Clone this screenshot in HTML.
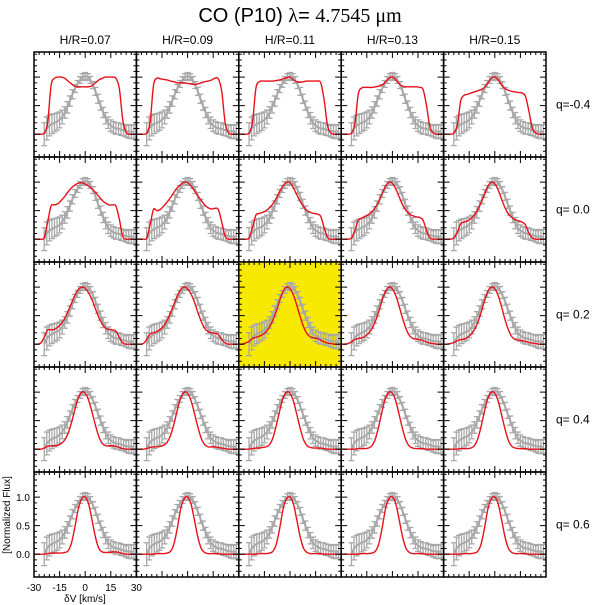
<!DOCTYPE html>
<html><head><meta charset="utf-8"><style>
html,body{margin:0;padding:0;background:#fff;}
svg{display:block;font-family:"Liberation Sans",sans-serif;}
</style></head><body>
<svg id="fig" width="600" height="605" viewBox="0 0 600 605" xmlns="http://www.w3.org/2000/svg">
<text x="300" y="22" font-size="20" text-anchor="middle">CO (P10) <tspan font-family="Liberation Serif">λ</tspan>= <tspan font-family="Liberation Serif">4.7545 μm</tspan></text>
<g id="panels"></g>
<text transform="translate(10,515) rotate(-90)" font-size="10" text-anchor="middle">[Normalized Flux]</text>
<text x="85" y="602" font-size="10" text-anchor="middle">δV [km/s]</text>
</svg>
<script>
const colLabels=["H/R=0.07","H/R=0.09","H/R=0.11","H/R=0.13","H/R=0.15"];
const rowLabels=["q=-0.4","q= 0.0","q= 0.2","q= 0.4","q= 0.6"];
const xTicks=[-30,-15,0,15,30];
const yTicks=[0.0,0.5,1.0];
const yTickLabels=["0.0","0.5","1.0"];
const modelV=[-30,-28,-26,-24,-22,-20,-18,-16,-14,-12,-10,-8,-6,-4,-2,0,2,4,6,8,10,12,14,16,18,20,22,24,26,28,30];
const dataV=[-24,-22.5,-21,-19.5,-18,-16.5,-15,-13.5,-12,-10.5,-9,-7.5,-6,-4.5,-3,-1.5,0,1.5,3,4.5,6,7.5,9,10.5,12,13.5,15,16.5,18,19.5,21,22.5,24,25.5,27,28.5];
const dataFlux=[0.0,0.1,0.15,0.18,0.2,0.22,0.25,0.3,0.38,0.47,0.58,0.7,0.8,0.88,0.95,1.0,1.02,1.0,0.95,0.86,0.75,0.62,0.5,0.38,0.28,0.2,0.15,0.12,0.1,0.1,0.08,0.07,0.05,0.05,0.04,0.05];
const dataErr=[0.2,0.2,0.18,0.17,0.16,0.15,0.14,0.12,0.1,0.1,0.09,0.08,0.07,0.06,0.06,0.06,0.06,0.06,0.06,0.06,0.07,0.08,0.08,0.09,0.1,0.1,0.1,0.1,0.1,0.1,0.1,0.1,0.1,0.12,0.12,0.12];
const modelQm04=[
[0,0,0,0.02,0.2,0.85,0.98,1.0,1.0,0.98,0.93,0.88,0.84,0.83,0.83,0.83,0.83,0.85,0.9,0.95,0.98,1.0,1.0,1.0,0.98,0.8,0.25,0.03,0,0,0],
[0,0,0,0.02,0.2,0.85,0.98,0.97,0.96,0.95,0.93,0.92,0.9,0.9,0.9,0.89,0.88,0.87,0.88,0.9,0.92,0.93,0.95,0.98,0.97,0.75,0.2,0.02,0,0,0],
[0,0,0,0.02,0.2,0.8,0.92,0.93,0.93,0.93,0.93,0.94,0.95,0.97,0.99,1.0,0.95,0.92,0.91,0.92,0.93,0.93,0.93,0.93,0.9,0.6,0.15,0.02,0,0,0],
[0,0,0,0.02,0.18,0.7,0.81,0.82,0.82,0.82,0.83,0.84,0.86,0.92,0.98,1.0,0.95,0.88,0.84,0.83,0.83,0.83,0.83,0.82,0.78,0.5,0.12,0.02,0,0,0],
[0,0,0,0.02,0.15,0.58,0.68,0.7,0.72,0.74,0.76,0.78,0.82,0.9,0.98,1.0,0.95,0.86,0.8,0.77,0.75,0.74,0.73,0.72,0.66,0.4,0.1,0.02,0,0,0]];
const modelQ00=[
[0,0,0,0.03,0.3,0.58,0.6,0.62,0.68,0.75,0.83,0.9,0.95,0.98,0.99,0.97,0.93,0.88,0.82,0.75,0.68,0.63,0.6,0.6,0.58,0.35,0.05,0,0,0,0],
[0,0,0,0.02,0.25,0.52,0.5,0.52,0.58,0.65,0.73,0.82,0.9,0.96,1.0,0.99,0.93,0.85,0.76,0.68,0.6,0.55,0.53,0.54,0.52,0.3,0.05,0,0,0,0],
[0,0,0,0.02,0.2,0.42,0.45,0.47,0.5,0.55,0.62,0.72,0.84,0.94,1.0,0.99,0.9,0.78,0.66,0.57,0.5,0.47,0.45,0.44,0.4,0.2,0.03,0,0,0,0],
[0,0,0,0.02,0.15,0.33,0.37,0.4,0.43,0.48,0.56,0.66,0.8,0.93,1.0,0.98,0.88,0.74,0.6,0.5,0.44,0.41,0.39,0.38,0.33,0.15,0.02,0,0,0,0],
[0,0,0,0.02,0.12,0.27,0.3,0.32,0.36,0.42,0.52,0.64,0.79,0.93,1.0,0.97,0.86,0.7,0.55,0.44,0.38,0.34,0.32,0.3,0.25,0.1,0.02,0,0,0,0]];
const modelQ02=[
[0,0,0.02,0.12,0.25,0.25,0.26,0.3,0.36,0.45,0.58,0.72,0.86,0.96,1.0,0.98,0.9,0.78,0.62,0.47,0.35,0.28,0.26,0.25,0.23,0.12,0.02,0,0,0,0],
[0,0,0.01,0.08,0.18,0.2,0.22,0.26,0.32,0.42,0.55,0.7,0.85,0.96,1.0,0.97,0.88,0.74,0.56,0.4,0.28,0.22,0.2,0.19,0.17,0.08,0.02,0,0,0,0],
[0,0,0.02,0.05,0.1,0.12,0.14,0.17,0.22,0.3,0.42,0.58,0.77,0.93,1.0,0.97,0.86,0.68,0.48,0.3,0.18,0.13,0.11,0.1,0.07,0.04,0.02,0.01,0,0,0],
[0,0,0.01,0.04,0.08,0.1,0.11,0.14,0.19,0.27,0.4,0.57,0.77,0.93,1.0,0.97,0.85,0.66,0.45,0.27,0.15,0.1,0.09,0.08,0.06,0.04,0.02,0.01,0,0,0],
[0,0,0.01,0.03,0.06,0.08,0.09,0.12,0.17,0.25,0.38,0.56,0.76,0.93,1.0,0.97,0.85,0.65,0.43,0.25,0.13,0.08,0.07,0.06,0.05,0.03,0.02,0.01,0,0,0]];
const modelQ04=[
[0,0,0,0.02,0.05,0.06,0.06,0.07,0.1,0.16,0.28,0.47,0.7,0.9,1.0,0.98,0.86,0.65,0.42,0.22,0.1,0.06,0.06,0.06,0.05,0.03,0.01,0,0,0,0],
[0,0,0,0.01,0.03,0.04,0.04,0.05,0.07,0.12,0.24,0.44,0.69,0.9,1.0,0.98,0.85,0.63,0.39,0.19,0.08,0.04,0.04,0.04,0.03,0.02,0.01,0,0,0,0],
[0,0,0,0,0.01,0.02,0.02,0.03,0.04,0.08,0.2,0.42,0.68,0.9,1.0,0.98,0.84,0.61,0.36,0.16,0.06,0.03,0.02,0.02,0.02,0.01,0,0,0,0,0],
[0,0,0,0,0,0.01,0.01,0.01,0.02,0.06,0.18,0.4,0.67,0.9,1.0,0.98,0.84,0.6,0.35,0.15,0.05,0.02,0.01,0.01,0.01,0,0,0,0,0,0],
[0,0,0,0,0,0.01,0.01,0.01,0.02,0.06,0.18,0.4,0.67,0.9,1.0,0.98,0.84,0.6,0.35,0.15,0.05,0.02,0.01,0.01,0.01,0,0,0,0,0,0]];
const modelQ06=[
[0,0,0,0,0.01,0.02,0.02,0.02,0.02,0.03,0.06,0.2,0.48,0.8,0.97,1.0,0.88,0.6,0.3,0.1,0.04,0.03,0.03,0.04,0.04,0.03,0.01,0,0,0,0],
[0,0,0,0,0,0,0.01,0.01,0.01,0.02,0.05,0.18,0.46,0.8,0.97,1.0,0.88,0.6,0.3,0.1,0.03,0.01,0.01,0.01,0.01,0,0,0,0,0,0],
[0,0,0,0,0,0,0.01,0.01,0.01,0.02,0.05,0.18,0.46,0.8,0.97,1.0,0.88,0.6,0.3,0.1,0.03,0.01,0.01,0.01,0.01,0,0,0,0,0,0],
[0,0,0,0,0,0,0.01,0.01,0.01,0.02,0.05,0.18,0.46,0.8,0.97,1.0,0.88,0.6,0.3,0.1,0.03,0.01,0.01,0.01,0.01,0,0,0,0,0,0],
[0,0,0,0,0,0,0.01,0.01,0.01,0.02,0.05,0.18,0.46,0.8,0.97,1.0,0.88,0.6,0.3,0.1,0.03,0.01,0.01,0.01,0.01,0,0,0,0,0,0]];
const models=[modelQm04,modelQ00,modelQ02,modelQ04,modelQ06];
const bestRow=2, bestCol=2;

const NS="http://www.w3.org/2000/svg";
const L=34,T=52,PW=102.4,PH=105,XMIN=-30,XMAX=30,YMIN=-0.4,YMAX=1.44;
const g=document.getElementById('panels');
function mk(tag,attrs,parent){const e=document.createElementNS(NS,tag);for(const k in attrs)e.setAttribute(k,attrs[k]);(parent||g).appendChild(e);return e;}
function smooth(pts){let d="M"+pts[0][0].toFixed(2)+","+pts[0][1].toFixed(2);
 for(let i=0;i<pts.length-1;i++){const p0=pts[Math.max(0,i-1)],p1=pts[i],p2=pts[i+1],p3=pts[Math.min(pts.length-1,i+2)];
  const c1x=p1[0]+(p2[0]-p0[0])/6,c1y=p1[1]+(p2[1]-p0[1])/6,c2x=p2[0]-(p3[0]-p1[0])/6,c2y=p2[1]-(p3[1]-p1[1])/6;
  d+=" C"+c1x.toFixed(2)+","+c1y.toFixed(2)+" "+c2x.toFixed(2)+","+c2y.toFixed(2)+" "+p2[0].toFixed(2)+","+p2[1].toFixed(2);}
 return d;}
// column labels
colLabels.forEach((lab,c)=>{
 const t=mk('text',{x:L+PW*c+PW/2,y:44,'font-size':12,'text-anchor':'middle'});
 
 
 t.textContent=lab;});
rowLabels.forEach((lab,r)=>{
 const t=mk('text',{x:556,y:T+PH*r+PH/2+4,'font-size':12});
 
 
 t.textContent=lab;});
for(let r=0;r<5;r++){for(let c=0;c<5;c++){
 const x0=L+PW*c,y0=T+PH*r;
 const sx=v=>x0+(v-XMIN)/(XMAX-XMIN)*PW;
 const sy=f=>y0+PH-(f-YMIN)/(YMAX-YMIN)*PH;
 const pg=mk('g',{});
 
 
 const cid='clip'+r+'_'+c;
 const cp=mk('clipPath',{id:cid},pg);mk('rect',{x:x0,y:y0,width:PW,height:PH},cp);
 if(r===bestRow&&c===bestCol){const hl=mk('rect',{x:x0,y:y0,width:PW,height:PH,fill:'#f7ea00'},pg);
  
  }
 const inner=mk('g',{'clip-path':'url(#'+cid+')'},pg);
 // data
 const dp=dataV.map((v,i)=>[sx(v),sy(dataFlux[i])]);
 const dl=mk('path',{d:"M"+dp.map(p=>p[0].toFixed(2)+","+p[1].toFixed(2)).join(" L"),fill:'none',stroke:'#a8a8a8','stroke-width':2},inner);
 
 
 let eb="";
 dataV.forEach((v,i)=>{const x=sx(v),ya=sy(dataFlux[i]+dataErr[i]),yb=sy(dataFlux[i]-dataErr[i]);
  eb+="M"+x.toFixed(2)+","+ya.toFixed(2)+" V"+yb.toFixed(2)+" M"+(x-3).toFixed(2)+","+ya.toFixed(2)+" h6 M"+(x-3).toFixed(2)+","+yb.toFixed(2)+" h6 ";});
 const ebp=mk('path',{d:eb,fill:'none',stroke:'#a8a8a8','stroke-width':1.3},inner);
 
 
 // model
 const m=models[r][c];
 const mp=modelV.map((v,i)=>[sx(v),sy(m[i])]);
 const ml=mk('path',{d:smooth(mp),fill:'none',stroke:'#e8101a','stroke-width':1.4},inner);
 
 
 // ticks
 let tk="";
 for(let v=-30;v<=30;v+=3){const x=sx(v),len=(v%15===0)?6:3;tk+="M"+x.toFixed(2)+","+y0+" v"+len+" M"+x.toFixed(2)+","+(y0+PH)+" v"+(-len)+" ";}
 for(let k=-3;k<=14;k++){const f=k/10,y=sy(f),len=(k%5===0)?6:3;tk+="M"+x0+","+y.toFixed(2)+" h"+len+" M"+(x0+PW)+","+y.toFixed(2)+" h"+(-len)+" ";}
 const tp=mk('path',{d:tk,fill:'none',stroke:'#000','stroke-width':1},pg);
 
 
 const fr=mk('rect',{x:x0,y:y0,width:PW,height:PH,fill:'none',stroke:'#000','stroke-width':1.5},pg);
 
 
 if(r===4&&c===0){
  xTicks.forEach(v=>{const t=mk('text',{x:sx(v),y:y0+PH+14,'font-size':10,'text-anchor':'middle'});
   
   
   t.textContent=v;});
  yTicks.forEach((f,i)=>{const t=mk('text',{x:x0-4,y:sy(f)+4,'font-size':10,'text-anchor':'end'});
   
   
   t.textContent=yTickLabels[i];});
 }
}}
</script>
</body></html>
